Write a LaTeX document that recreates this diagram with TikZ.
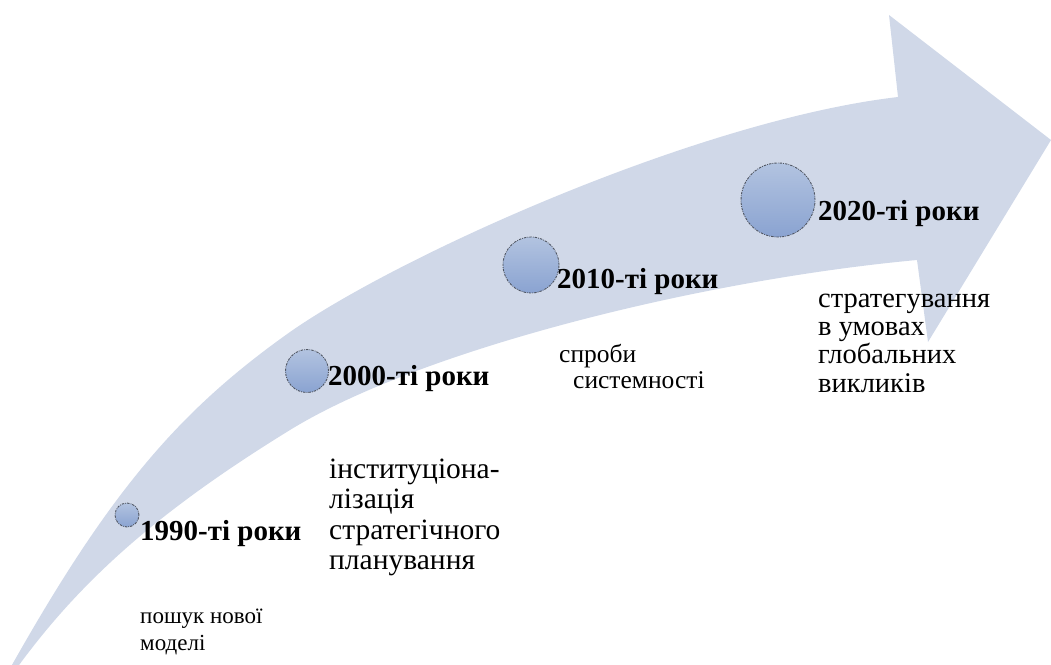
\documentclass[tikz,border=0pt]{standalone}
\usepackage{fontspec}
\setmainfont{Liberation Serif}
\definecolor{arrowfill}{RGB}{208,216,232}
\definecolor{dottop}{RGB}{178,195,224}
\definecolor{dotbot}{RGB}{138,163,209}
\definecolor{dotline}{RGB}{80,86,98}
\tikzset{
  dot/.style={circle, inner sep=0pt, top color=dottop, bottom color=dotbot,
    draw=dotline, line width=0.9pt, dash pattern=on 2.4pt off 1.1pt on 0.8pt off 1.1pt},
  head/.style={anchor=base west, inner sep=0pt, font=\fontsize{29}{31}\selectfont\bfseries},
  body/.style={anchor=base west, inner sep=0pt},
}
\begin{document}
\begin{tikzpicture}[x=1pt,y=-1pt]
\useasboundingbox (0,0) rectangle (1051,664);
\clip (0,0) rectangle (1051,664);
% big curved arrow
\fill[arrowfill] (8,672) .. controls (110,490) and (180,410) .. (290,332)
  .. controls (400,255) and (700,120) .. (898,97)
  -- (889,15) -- (1051,140) -- (928,342) -- (917,260)
  .. controls (700,280) and (420,350) .. (290,430)
  .. controls (160,510) and (80,580) .. (14,672)
  -- cycle;
% circles
\node[dot, minimum size=24pt] (c1) at (127,515) {};
\node[dot, minimum size=43pt] (c2) at (307,371) {};
\node[dot, minimum size=56pt] (c3) at (531,265) {};
\node[dot, minimum size=74pt] (c4) at (778,200) {};
% headings
\node[head] (h1) at (140,540) {1990-ті роки};
\node[head] (h2) at (328,385) {2000-ті роки};
\node[head] (h3) at (557,288) {2010-ті роки};
\node[head] (h4) at (818,220) {2020-ті роки};
% descriptions
\begin{scope}[every node/.append style={font=\fontsize{23}{27}\selectfont}]
\node[body] (t1a) at (140,623) {пошук нової};
\node[body] (t1b) at (140,650) {моделі};
\end{scope}
\begin{scope}[every node/.append style={font=\fontsize{29.5}{30}\selectfont}]
\node[body] (t2a) at (329,478) {інституціона-};
\node[body] (t2b) at (329,508.5) {лізація};
\node[body] (t2c) at (329,539) {стратегічного};
\node[body] (t2d) at (329,569.5) {планування};
\end{scope}
\begin{scope}[every node/.append style={font=\fontsize{25.5}{27}\selectfont}]
\node[body] (t3a) at (559,362) {спроби};
\node[body] (t3b) at (573,388) {системності};
\end{scope}
\begin{scope}[every node/.append style={font=\fontsize{28.5}{30}\selectfont}]
\node[body] (t4a) at (818,307) {стратегування};
\node[body] (t4b) at (818,335) {в умовах};
\node[body] (t4c) at (818,363) {глобальних};
\node[body] (t4d) at (818,392) {викликів};
\end{scope}
\end{tikzpicture}
\end{document}
